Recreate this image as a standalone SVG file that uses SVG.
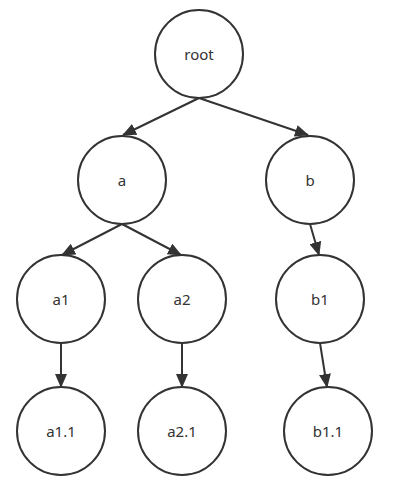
<svg xmlns="http://www.w3.org/2000/svg" width="401" height="489" viewBox="0 0 401 489">
<style>
.n{fill:#fff;stroke:#333;stroke-width:2}
.t{font-family:"Noto Sans","Liberation Sans",sans-serif;font-size:15px;fill:#333;text-anchor:middle}
.e{stroke:#333;stroke-width:2;fill:none;marker-end:url(#ah)}
</style>
<defs>
<marker id="ah" markerUnits="userSpaceOnUse" markerWidth="14" markerHeight="12" viewBox="0 0 14 12" refX="13" refY="6" orient="auto">
<path d="M0,0 L14,6 L0,12 Z" fill="#333"/>
</marker>
</defs>
<rect width="401" height="489" fill="#fff"/>
<g id="connectors">
<line class="e" x1="199" y1="98" x2="123" y2="135"/>
<line class="e" x1="199" y1="98" x2="308" y2="135"/>
<line class="e" x1="122" y1="224" x2="62" y2="255"/>
<line class="e" x1="122" y1="224" x2="181" y2="255"/>
<line class="e" x1="310" y1="224" x2="319" y2="255"/>
<line class="e" x1="61" y1="343" x2="61" y2="387"/>
<line class="e" x1="182" y1="343" x2="182" y2="387"/>
<line class="e" x1="320" y1="343" x2="327" y2="387"/>
</g>
<g id="root"><circle class="n" cx="199" cy="54" r="44"/><text class="t" x="199" y="60">root</text></g>
<g id="a"><circle class="n" cx="122" cy="180" r="44"/><text class="t" x="122" y="186">a</text></g>
<g id="b"><circle class="n" cx="310" cy="180" r="44"/><text class="t" x="310" y="186">b</text></g>
<g id="a1"><circle class="n" cx="61" cy="299" r="44"/><text class="t" x="61" y="305">a1</text></g>
<g id="a2"><circle class="n" cx="182" cy="299" r="44"/><text class="t" x="182" y="305">a2</text></g>
<g id="b1"><circle class="n" cx="320" cy="299" r="44"/><text class="t" x="320" y="305">b1</text></g>
<g id="a1.1"><circle class="n" cx="61" cy="431" r="44"/><text class="t" x="61" y="437">a1.1</text></g>
<g id="a2.1"><circle class="n" cx="182" cy="431" r="44"/><text class="t" x="182" y="437">a2.1</text></g>
<g id="b1.1"><circle class="n" cx="328" cy="431" r="44"/><text class="t" x="328" y="437">b1.1</text></g>
</svg>
